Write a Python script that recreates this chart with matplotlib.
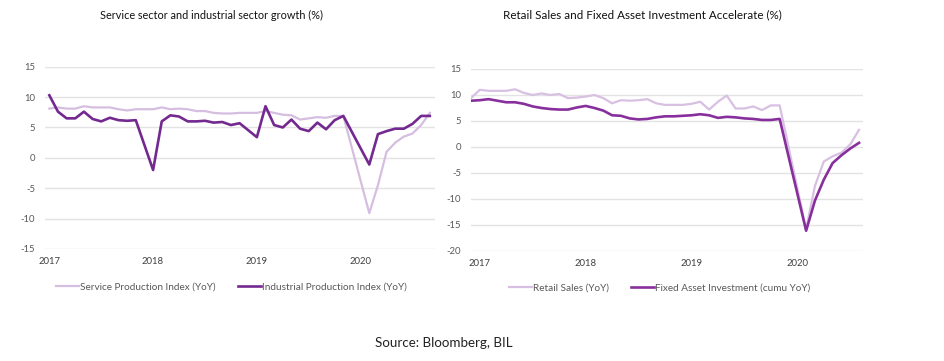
import matplotlib
matplotlib.use('Agg')
import matplotlib.pyplot as plt
import numpy as np
import pandas as pd
from matplotlib.lines import Line2D
from matplotlib import font_manager

plt.rcParams['font.family'] = ['Lato', 'DejaVu Sans']

# ---------------- data ----------------
# Left chart: monthly, Feb 2017 .. Oct 2020 (None = no single-month print)
left_months = pd.date_range('2017-02-01', '2020-10-01', freq='MS')
service_yoy = [8.1, 8.3, 8.1, 8.1, 8.5, 8.3, 8.3, 8.3, 8.0, 7.8, 8.0, None,
               8.0, 8.3, 8.0, 8.1, 8.0, 7.7, 7.7, 7.4, 7.3, 7.3, 7.4, None,
               7.4, 7.7, 7.4, 7.1, 7.0, 6.3, 6.5, 6.7, 6.6, 6.9, 6.9, None,
               None, -9.1, -4.5, 1.0, 2.5, 3.5, 4.0, 5.4, 7.4]
industrial_yoy = [10.3, 7.6, 6.5, 6.5, 7.6, 6.4, 6.0, 6.6, 6.2, 6.1, 6.2, None,
                  -2.0, 6.0, 7.0, 6.8, 6.0, 6.0, 6.1, 5.8, 5.9, 5.4, 5.7, None,
                  3.4, 8.5, 5.4, 5.0, 6.3, 4.8, 4.4, 5.8, 4.7, 6.2, 6.9, None,
                  None, -1.1, 3.9, 4.4, 4.8, 4.8, 5.6, 6.9, 6.9]

# Right chart: monthly, Jan 2017 .. Sep 2020
right_months = pd.date_range('2017-01-01', '2020-09-01', freq='MS')
retail_yoy = [9.4, 11.0, 10.8, 10.8, 10.8, 11.1, 10.4, 10.0, 10.3, 10.0, 10.2, 9.4,
              9.5, 9.7, 10.0, 9.4, 8.4, 9.0, 8.9, 9.0, 9.2, 8.4, 8.1, 8.1,
              8.1, 8.3, 8.7, 7.2, 8.7, 9.9, 7.4, 7.4, 7.8, 7.1, 8.0, 8.0,
              None, None, -15.8, -7.5, -2.8, -1.8, -1.1, 0.5, 3.3]
fai_cumu_yoy = [8.9, 9.0, 9.2, 8.9, 8.6, 8.6, 8.3, 7.8, 7.5, 7.3, 7.2, 7.2,
                7.6, 7.9, 7.5, 7.0, 6.1, 6.0, 5.5, 5.3, 5.4, 5.7, 5.9, 5.9,
                6.0, 6.1, 6.3, 6.1, 5.6, 5.8, 5.7, 5.5, 5.4, 5.2, 5.2, 5.4,
                None, None, -16.1, -10.3, -6.3, -3.1, -1.6, -0.3, 0.8]

year_labels = ['2017', '2018', '2019', '2020']
year_tick_dates = pd.to_datetime(['2017-02-01', '2018-02-01', '2019-02-01', '2020-02-01'])

left_title = 'Service sector and industrial sector growth (%)'
right_title = 'Retail Sales and Fixed Asset Investment Accelerate (%)'
left_names = ['Service Production Index (YoY)', 'Industrial Production Index (YoY)']
right_names = ['Retail Sales (YoY)', 'Fixed Asset Investment (cumu YoY)']
source_text = 'Source: Bloomberg, BIL'

# ---------------- styling ----------------
W, H = 944, 361
DPI = 100
GRID = '#E3E3E3'
TICKC = '#595959'
L_LIGHT, L_DARK = '#D5BEE0', '#73298F'
R_LIGHT, R_DARK = '#D8C0E2', '#872F9C'

available = {f.name for f in font_manager.fontManager.ttflist}
NARROW = ['Liberation Sans Narrow', 'Lato'] if 'Liberation Sans Narrow' in available else ['Lato']

fig = plt.figure(figsize=(W / DPI, H / DPI), dpi=DPI)
fig.patch.set_facecolor('white')
renderer = fig.canvas.get_renderer()


def fit_size(text, target_px, family=None, base=10):
    t = fig.text(0, 0, text, fontsize=base, family=family)
    w = t.get_window_extent(renderer=renderer).width
    t.remove()
    return base * target_px / w


def month_index(dates):
    return np.array([(d.year - 2017) * 12 + (d.month - 1) for d in dates], dtype=float)


def valid(xs, ys):
    pts = [(x, y) for x, y in zip(xs, ys) if y is not None]
    return [p[0] for p in pts], [p[1] for p in pts]


tick_fs = fit_size('2017', 22)
leg_fs = fit_size(left_names[0], 136, NARROW)


def style_axis(ax, ylim, yticks):
    ax.set_ylim(*ylim)
    ax.set_yticks(yticks)
    ax.set_yticklabels([str(v) for v in yticks])
    for s in ax.spines.values():
        s.set_visible(False)
    ax.grid(axis='y', color=GRID, linewidth=1.0)
    ax.grid(axis='x', visible=False)
    ax.set_axisbelow(True)
    ax.tick_params(axis='both', length=0, labelsize=tick_fs, labelcolor=TICKC)
    ax.tick_params(axis='x', labelcolor='#404040')
    ax.tick_params(axis='y', pad=7)
    ax.tick_params(axis='x', pad=6)
    xt = month_index(year_tick_dates)
    ax.set_xticks(xt)
    ax.set_xticklabels(year_labels)


# Left axes
axL = fig.add_axes([45 / W, 1 - 249 / H, 390 / W, 182.3 / H])
xl = month_index(left_months)
x, y = valid(xl, service_yoy)
axL.plot(x, y, color=L_LIGHT, lw=1.6, solid_joinstyle='round')
x, y = valid(xl, industrial_yoy)
axL.plot(x, y, color=L_DARK, lw=1.9, solid_joinstyle='round')
axL.set_xlim(0.5, 45.6)
style_axis(axL, (-15, 15), [15, 10, 5, 0, -5, -10, -15])

# Right axes
axR = fig.add_axes([471 / W, 1 - 251 / H, 392 / W, 182 / H])
xr = month_index(right_months)
x, y = valid(xr, retail_yoy)
axR.plot(x, y, color=R_LIGHT, lw=1.6, solid_joinstyle='round')
x, y = valid(xr, fai_cumu_yoy)
axR.plot(x, y, color=R_DARK, lw=1.9, solid_joinstyle='round')
axR.set_xlim(0.0, 44.45)
style_axis(axR, (-20, 15), [15, 10, 5, 0, -5, -10, -15, -20])

# Titles
fig.text(211 / W, 1 - 15 / H, left_title, ha='center', va='center', family=NARROW,
         fontsize=fit_size(left_title, 222, NARROW), color='#111111')
fig.text(642 / W, 1 - 15 / H, right_title, ha='center', va='center', family=NARROW,
         fontsize=fit_size(right_title, 279, NARROW), color='#111111')

# Legends
hL = [Line2D([], [], color=L_LIGHT, lw=1.6), Line2D([], [], color=L_DARK, lw=1.9)]
fig.legend(hL, left_names, loc='center', bbox_to_anchor=(231.5 / W, 1 - 287 / H),
           ncol=2, frameon=False, prop={'family': NARROW, 'size': leg_fs}, labelcolor=TICKC,
           handlelength=2.3, handletextpad=0.1, columnspacing=2.2, borderpad=0)
hR = [Line2D([], [], color=R_LIGHT, lw=1.6), Line2D([], [], color=R_DARK, lw=1.9)]
fig.legend(hR, right_names, loc='center', bbox_to_anchor=(660 / W, 1 - 288 / H),
           ncol=2, frameon=False, prop={'family': NARROW, 'size': leg_fs}, labelcolor=TICKC,
           handlelength=2.3, handletextpad=0.1, columnspacing=2.2, borderpad=0)

# Source
fig.text(444 / W, 1 - 343 / H, source_text, ha='center', va='center',
         fontsize=fit_size(source_text, 138), color='#222222')

fig.savefig('out.png', dpi=DPI, facecolor='white')
